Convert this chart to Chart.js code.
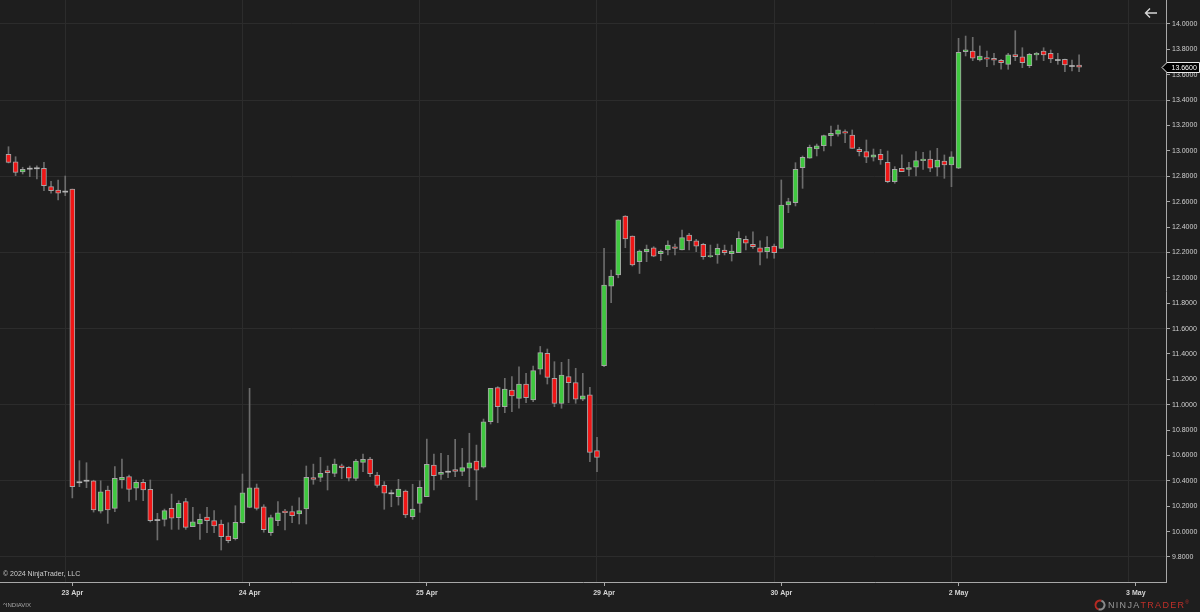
<!DOCTYPE html>
<html>
<head>
<meta charset="utf-8">
<script src="https://cdn.jsdelivr.net/npm/chart.js@4.4.1/dist/chart.umd.min.js"></script>
<style>
  html, body { margin: 0; padding: 0; background: #1e1e1e; }
  canvas { display: block; }
</style>
</head>
<body>
<canvas id="chart" width="1200" height="612"></canvas>
<script>
// 15 minute candles, ^INDIAVIX
const opens = [
  12.973, 12.913, 12.834, 12.860, 12.863, 12.863, 12.718, 12.692, 12.679, 12.700,
  10.389, 10.401, 10.401, 10.162, 10.328, 10.183, 10.407, 10.433, 10.343, 10.389,
  10.333, 10.091, 10.097, 10.183, 10.110, 10.236, 10.039, 10.060, 10.115, 10.086,
  10.060, 9.965, 9.944, 10.070, 10.191, 10.346, 10.196, 9.992, 10.086, 10.162,
  10.157, 10.139, 10.178, 10.425, 10.428, 10.480, 10.459, 10.519, 10.507, 10.420,
  10.546, 10.572, 10.446, 10.365, 10.302, 10.275, 10.320, 10.118, 10.223, 10.275,
  10.525, 10.451, 10.472, 10.488, 10.475, 10.499, 10.556, 10.507, 10.866, 11.134,
  10.984, 11.116, 11.050, 11.163, 11.037, 11.281, 11.405, 11.208, 11.011, 11.221,
  11.174, 11.043, 11.077, 10.638, 11.307, 11.935, 12.022, 12.487, 12.329, 12.127,
  12.206, 12.237, 12.190, 12.219, 12.245, 12.219, 12.337, 12.292, 12.264, 12.166,
  12.180, 12.219, 12.190, 12.198, 12.303, 12.264, 12.237, 12.206, 12.250, 12.232,
  12.574, 12.592, 12.868, 12.942, 13.015, 13.041, 13.120, 13.131, 13.152, 13.125,
  13.012, 12.994, 12.950, 12.973, 12.910, 12.757, 12.863, 12.855, 12.871, 12.923,
  12.936, 12.871, 12.920, 12.889, 12.863, 13.782, 13.787, 13.716, 13.735, 13.730,
  13.714, 13.682, 13.758, 13.742, 13.672, 13.756, 13.787, 13.769, 13.716, 13.722,
  13.669, 13.677
];
const highs = [
  13.033, 12.954, 12.871, 12.881, 12.883, 12.910, 12.760, 12.771, 12.802, 12.700,
  10.559, 10.543, 10.405, 10.401, 10.359, 10.512, 10.571, 10.446, 10.407, 10.412,
  10.407, 10.144, 10.178, 10.296, 10.244, 10.262, 10.191, 10.139, 10.191, 10.165,
  10.091, 10.070, 10.204, 10.454, 11.129, 10.375, 10.212, 10.130, 10.236, 10.176,
  10.202, 10.267, 10.517, 10.532, 10.585, 10.517, 10.572, 10.532, 10.512, 10.569,
  10.611, 10.585, 10.467, 10.394, 10.328, 10.412, 10.328, 10.373, 10.401, 10.729,
  10.611, 10.617, 10.601, 10.727, 10.656, 10.775, 10.682, 10.887, 11.129, 11.142,
  11.208, 11.221, 11.299, 11.247, 11.305, 11.459, 11.439, 11.339, 11.334, 11.358,
  11.287, 11.247, 11.137, 10.743, 12.232, 12.061, 12.456, 12.490, 12.330, 12.219,
  12.258, 12.245, 12.219, 12.292, 12.266, 12.377, 12.350, 12.303, 12.272, 12.258,
  12.266, 12.258, 12.258, 12.363, 12.329, 12.363, 12.292, 12.324, 12.266, 12.771,
  12.627, 12.907, 12.960, 13.046, 13.054, 13.125, 13.196, 13.204, 13.165, 13.165,
  13.028, 13.086, 13.015, 13.012, 12.999, 12.876, 12.968, 12.910, 12.994, 12.989,
  13.001, 13.020, 12.968, 12.994, 13.887, 13.905, 13.895, 13.827, 13.787, 13.769,
  13.722, 13.769, 13.947, 13.813, 13.769, 13.777, 13.813, 13.795, 13.769, 13.724,
  13.716, 13.756
];
const lows = [
  12.905, 12.805, 12.818, 12.797, 12.779, 12.686, 12.666, 12.613, 12.647, 10.265,
  10.354, 10.346, 10.154, 10.146, 10.065, 10.157, 10.343, 10.238, 10.249, 10.244,
  10.076, 9.934, 10.044, 10.018, 10.018, 10.018, 10.039, 9.939, 9.991, 9.991,
  9.855, 9.912, 9.934, 10.065, 10.188, 10.170, 9.995, 9.970, 10.047, 10.013,
  10.070, 10.060, 10.060, 10.373, 10.394, 10.328, 10.433, 10.417, 10.399, 10.401,
  10.472, 10.433, 10.349, 10.176, 10.196, 10.209, 10.110, 10.097, 10.152, 10.275,
  10.328, 10.412, 10.425, 10.433, 10.441, 10.354, 10.250, 10.500, 10.848, 10.858,
  10.937, 10.945, 10.972, 11.016, 11.024, 11.240, 11.163, 10.984, 10.972, 11.016,
  11.011, 11.032, 10.551, 10.472, 11.300, 11.804, 12.000, 12.237, 12.093, 12.034,
  12.127, 12.166, 12.135, 12.180, 12.180, 12.219, 12.219, 12.206, 12.146, 12.161,
  12.114, 12.180, 12.132, 12.198, 12.219, 12.232, 12.101, 12.154, 12.154, 12.230,
  12.513, 12.566, 12.705, 12.942, 12.960, 12.999, 13.039, 13.117, 13.065, 13.020,
  12.960, 12.907, 12.920, 12.894, 12.749, 12.745, 12.836, 12.802, 12.802, 12.855,
  12.836, 12.802, 12.784, 12.718, 12.860, 13.748, 13.711, 13.708, 13.664, 13.677,
  13.643, 13.643, 13.711, 13.656, 13.656, 13.716, 13.711, 13.695, 13.682, 13.624,
  13.630, 13.624
];
const closes = [
  12.910, 12.831, 12.855, 12.860, 12.863, 12.726, 12.686, 12.666, 12.679, 10.354,
  10.389, 10.401, 10.170, 10.314, 10.170, 10.420, 10.428, 10.333, 10.389, 10.328,
  10.086, 10.091, 10.165, 10.105, 10.223, 10.034, 10.078, 10.097, 10.086, 10.044,
  9.960, 9.928, 10.073, 10.306, 10.346, 10.183, 10.015, 10.110, 10.149, 10.149,
  10.125, 10.165, 10.428, 10.412, 10.459, 10.464, 10.533, 10.504, 10.422, 10.556,
  10.569, 10.456, 10.365, 10.302, 10.302, 10.336, 10.131, 10.178, 10.349, 10.530,
  10.441, 10.467, 10.472, 10.475, 10.504, 10.543, 10.485, 10.866, 11.129, 10.984,
  11.124, 11.069, 11.163, 11.055, 11.268, 11.410, 11.216, 11.011, 11.234, 11.174,
  11.043, 11.069, 10.625, 10.585, 11.943, 12.014, 12.456, 12.306, 12.101, 12.211,
  12.227, 12.171, 12.208, 12.258, 12.232, 12.316, 12.290, 12.250, 12.166, 12.176,
  12.232, 12.198, 12.211, 12.311, 12.272, 12.245, 12.201, 12.240, 12.198, 12.574,
  12.600, 12.855, 12.950, 13.028, 13.039, 13.120, 13.139, 13.165, 13.139, 13.020,
  12.994, 12.950, 12.968, 12.928, 12.757, 12.855, 12.836, 12.868, 12.923, 12.936,
  12.863, 12.928, 12.889, 12.954, 13.777, 13.797, 13.730, 13.748, 13.722, 13.714,
  13.695, 13.756, 13.742, 13.695, 13.761, 13.769, 13.756, 13.724, 13.716, 13.677,
  13.669, 13.660
];

// x axis: candle index of the first bar of each session
const dayTicks = [9, 34, 59, 84, 109, 134, 159];
const dayLabels = ['23 Apr', '24 Apr', '25 Apr', '29 Apr', '30 Apr', '2 May', '3 May'];
const priceTicks = [9.8, 10.0, 10.2, 10.4, 10.6, 10.8, 11.0, 11.2, 11.4, 11.6, 11.8,
  12.0, 12.2, 12.4, 12.6, 12.8, 13.0, 13.2, 13.4, 13.6, 13.8, 14.0];
const lastPrice = 13.66;

const UP = '#3fc83f';
const DOWN = '#f01616';
const DOJI = '#b4b4b4';
const FONT = '"Liberation Sans", Arial, sans-serif';

const idx = opens.map((_, i) => i);
const isDoji = i => Math.abs(closes[i] - opens[i]) < 0.005;

const wickData = idx.map(i => ({ x: i, y: [lows[i], highs[i]] }));
const bodyData = idx.map(i => isDoji(i)
  ? { x: i, y: [opens[i] - 0.004, opens[i] + 0.004] }
  : { x: i, y: [opens[i], closes[i]] });

// texts and markers drawn on top of the chart
const overlay = {
  id: 'overlay',
  beforeDraw(chart) {
    const c = chart.ctx;
    c.save();
    c.fillStyle = '#1e1e1e';
    c.fillRect(0, 0, chart.width, chart.height);
    c.restore();
  },
  afterDraw(chart) {
    const c = chart.ctx;
    const ys = chart.scales.y;
    const area = chart.chartArea;
    c.save();

    // copyright
    c.fillStyle = '#cfcfcf';
    c.font = '7px ' + FONT;
    c.textBaseline = 'middle';
    c.textAlign = 'left';
    c.fillText('\u00a9 2024 NinjaTrader, LLC', 3, 574);

    // instrument
    c.fillStyle = '#a8a8a8';
    c.font = '6px ' + FONT;
    c.fillText('^INDIAVIX', 3, 605);

    // back arrow
    c.strokeStyle = '#d6d6d6';
    c.lineWidth = 1.4;
    c.beginPath();
    c.moveTo(1157, 13); c.lineTo(1145.5, 13);
    c.moveTo(1150, 8.5); c.lineTo(1145.5, 13); c.lineTo(1150, 17.5);
    c.stroke();

    // last price marker
    const py = Math.round(ys.getPixelForValue(lastPrice)) + 0.5;
    c.fillStyle = '#000';
    c.strokeStyle = '#e8e8e8';
    c.lineWidth = 1;
    c.beginPath();
    c.moveTo(area.right - 4, py);
    c.lineTo(area.right + 1, py - 5);
    c.lineTo(1199.5, py - 5);
    c.lineTo(1199.5, py + 5);
    c.lineTo(area.right + 1, py + 5);
    c.closePath();
    c.fill();
    c.stroke();
    c.fillStyle = '#ffffff';
    c.font = '7px ' + FONT;
    c.fillText(lastPrice.toFixed(4), 1171.5, py + 0.5);

    // logo
    const lx = 1100, ly = 605;
    c.lineWidth = 2;
    c.strokeStyle = '#b52a22';
    c.beginPath(); c.arc(lx, ly, 4.5, Math.PI * 0.6, Math.PI * 1.6); c.stroke();
    c.strokeStyle = '#8a8a8a';
    c.beginPath(); c.arc(lx, ly, 4.5, Math.PI * 1.6, Math.PI * 2.6); c.stroke();
    c.font = '9px ' + FONT;
    c.textBaseline = 'middle';
    const spaced = (txt, x, col) => {
      c.fillStyle = col;
      for (const ch of txt) {
        c.fillText(ch, x, ly + 0.5);
        x += c.measureText(ch).width + 1.3;
      }
      return x;
    };
    let nx = spaced('NINJA', 1108, '#9a9a9a');
    nx = spaced('TRADER', nx, '#c0302a');
    c.font = '5px ' + FONT;
    c.fillStyle = '#c0302a';
    c.fillText('\u00ae', nx, ly - 2);

    c.restore();
  }
};

const ctx = document.getElementById('chart').getContext('2d');
const chart = new Chart(ctx, {
  type: 'bar',
  data: {
    datasets: [
      {
        label: 'wick',
        data: wickData,
        backgroundColor: '#6c6c6c',
        barThickness: 1,
        grouped: false,
        order: 2
      },
      {
        label: 'body',
        data: bodyData,
        backgroundColor: c => isDoji(c.dataIndex) ? DOJI : (closes[c.dataIndex] > opens[c.dataIndex] ? UP : DOWN),
        borderColor: c => isDoji(c.dataIndex) ? DOJI : '#a6a6a6',
        borderWidth: c => isDoji(c.dataIndex) ? 0 : 1,
        borderSkipped: false,
        barThickness: 5,
        grouped: false,
        order: 1
      }
    ]
  },
  options: {
    responsive: false,
    animation: false,
    layout: { padding: 0 },
    plugins: {
      legend: { display: false },
      tooltip: { enabled: false }
    },
    scales: {
      x: {
        type: 'linear',
        position: 'bottom',
        offset: false,
        min: -1.2,
        max: 163.26,
        afterBuildTicks: a => { a.ticks = dayTicks.map(v => ({ value: v })); },
        afterFit: a => { a.height = 30; a.paddingLeft = 0; a.paddingRight = 0; },
        grid: { offset: false, drawOnChartArea: false, tickColor: '#a8a8a8', tickLength: 4 },
        border: { color: '#a8a8a8', width: 1 },
        ticks: {
          autoSkip: false,
          maxRotation: 0,
          padding: 3,
          color: '#d4d4d4',
          font: { family: FONT, size: 7, weight: 'bold' },
          callback: v => dayLabels[dayTicks.indexOf(v)]
        }
      },
      xg: {
        type: 'linear',
        position: 'top',
        offset: false,
        min: -1.2,
        max: 163.26,
        afterBuildTicks: a => { a.ticks = dayTicks.map(v => ({ value: v - 1 })); },
        afterFit: a => { a.height = 0; a.paddingLeft = 0; a.paddingRight = 0; },
        grid: { offset: false, color: '#2c2c2c', drawTicks: false },
        border: { display: false },
        ticks: { display: false }
      },
      y: {
        type: 'linear',
        position: 'right',
        min: 9.603,
        max: 14.189,
        afterBuildTicks: a => { a.ticks = priceTicks.map(v => ({ value: v })); },
        afterFit: a => { a.width = 34; a.paddingTop = 0; a.paddingBottom = 0; },
        grid: {
          color: c => (c.tick && Math.round((c.tick.value - 9.8) / 0.2) % 3 === 0) ? '#2c2c2c' : 'rgba(0,0,0,0)',
          tickColor: '#a8a8a8',
          tickLength: 4
        },
        border: { color: '#a8a8a8', width: 1 },
        ticks: {
          padding: 2,
          color: '#d0d0d0',
          font: { family: FONT, size: 7 },
          callback: v => v.toFixed(4)
        }
      }
    }
  },
  plugins: [overlay]
});
</script>
</body>
</html>
